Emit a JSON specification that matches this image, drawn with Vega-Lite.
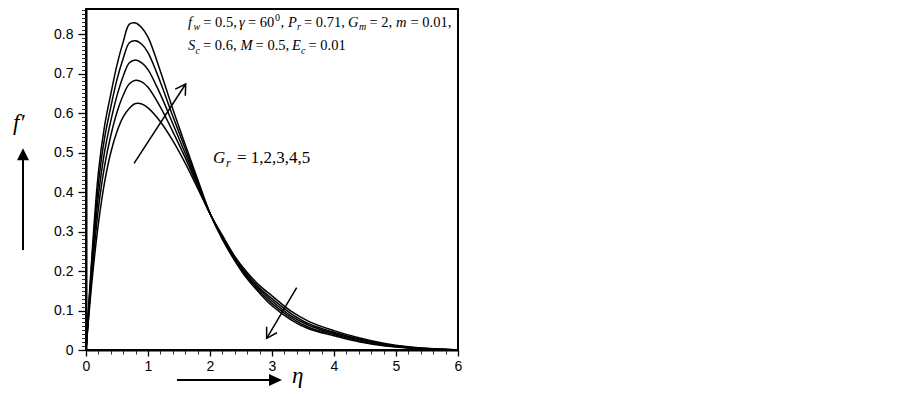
{
  "$schema": "https://vega.github.io/schema/vega-lite/v6.json",
  "width": 372,
  "height": 341,
  "autosize": {"type": "none"},
  "padding": {"left": 86, "top": 9, "right": 445, "bottom": 44},
  "background": "white",
  "config": {"view": {"stroke": "black", "strokeWidth": 2}},
  "resolve": {"axis": {"x": "independent", "y": "independent"}},
  "datasets": {
    "curves": [
      {"Gr":1,"x":0,"y":0},{"Gr":1,"x":0.1,"y":0.18},{"Gr":1,"x":0.2,"y":0.32},{"Gr":1,"x":0.3,"y":0.425},{"Gr":1,"x":0.4,"y":0.5},{"Gr":1,"x":0.5,"y":0.553},{"Gr":1,"x":0.6,"y":0.59},{"Gr":1,"x":0.7,"y":0.612},{"Gr":1,"x":0.8,"y":0.624},{"Gr":1,"x":0.9,"y":0.623},{"Gr":1,"x":1.0,"y":0.613},{"Gr":1,"x":1.2,"y":0.578},{"Gr":1,"x":1.4,"y":0.53},{"Gr":1,"x":1.6,"y":0.473},{"Gr":1,"x":1.8,"y":0.41},{"Gr":1,"x":2.0,"y":0.345},{"Gr":1,"x":2.2,"y":0.29},{"Gr":1,"x":2.4,"y":0.237},{"Gr":1,"x":2.6,"y":0.196},{"Gr":1,"x":2.8,"y":0.163},{"Gr":1,"x":3.0,"y":0.137},{"Gr":1,"x":3.3,"y":0.099},{"Gr":1,"x":3.6,"y":0.072},{"Gr":1,"x":4.0,"y":0.049},{"Gr":1,"x":4.4,"y":0.031},{"Gr":1,"x":4.8,"y":0.017},{"Gr":1,"x":5.2,"y":0.008},{"Gr":1,"x":5.6,"y":0.003},{"Gr":1,"x":6.0,"y":0},
      {"Gr":2,"x":0,"y":0},{"Gr":2,"x":0.1,"y":0.2},{"Gr":2,"x":0.2,"y":0.358},{"Gr":2,"x":0.3,"y":0.466},{"Gr":2,"x":0.4,"y":0.543},{"Gr":2,"x":0.5,"y":0.602},{"Gr":2,"x":0.6,"y":0.645},{"Gr":2,"x":0.7,"y":0.674},{"Gr":2,"x":0.8,"y":0.683},{"Gr":2,"x":0.9,"y":0.679},{"Gr":2,"x":1.0,"y":0.665},{"Gr":2,"x":1.2,"y":0.615},{"Gr":2,"x":1.4,"y":0.553},{"Gr":2,"x":1.6,"y":0.487},{"Gr":2,"x":1.8,"y":0.416},{"Gr":2,"x":2.0,"y":0.345},{"Gr":2,"x":2.2,"y":0.287},{"Gr":2,"x":2.4,"y":0.234},{"Gr":2,"x":2.6,"y":0.191},{"Gr":2,"x":2.8,"y":0.157},{"Gr":2,"x":3.0,"y":0.13},{"Gr":2,"x":3.3,"y":0.093},{"Gr":2,"x":3.6,"y":0.066},{"Gr":2,"x":4.0,"y":0.045},{"Gr":2,"x":4.4,"y":0.028},{"Gr":2,"x":4.8,"y":0.015},{"Gr":2,"x":5.2,"y":0.007},{"Gr":2,"x":5.6,"y":0.003},{"Gr":2,"x":6.0,"y":0},
      {"Gr":3,"x":0,"y":0},{"Gr":3,"x":0.1,"y":0.218},{"Gr":3,"x":0.2,"y":0.39},{"Gr":3,"x":0.3,"y":0.502},{"Gr":3,"x":0.4,"y":0.58},{"Gr":3,"x":0.5,"y":0.644},{"Gr":3,"x":0.6,"y":0.693},{"Gr":3,"x":0.7,"y":0.727},{"Gr":3,"x":0.8,"y":0.734},{"Gr":3,"x":0.9,"y":0.727},{"Gr":3,"x":1.0,"y":0.71},{"Gr":3,"x":1.2,"y":0.647},{"Gr":3,"x":1.4,"y":0.573},{"Gr":3,"x":1.6,"y":0.498},{"Gr":3,"x":1.8,"y":0.422},{"Gr":3,"x":2.0,"y":0.346},{"Gr":3,"x":2.2,"y":0.285},{"Gr":3,"x":2.4,"y":0.231},{"Gr":3,"x":2.6,"y":0.187},{"Gr":3,"x":2.8,"y":0.153},{"Gr":3,"x":3.0,"y":0.124},{"Gr":3,"x":3.3,"y":0.087},{"Gr":3,"x":3.6,"y":0.062},{"Gr":3,"x":4.0,"y":0.042},{"Gr":3,"x":4.4,"y":0.026},{"Gr":3,"x":4.8,"y":0.014},{"Gr":3,"x":5.2,"y":0.006},{"Gr":3,"x":5.6,"y":0.0025},{"Gr":3,"x":6.0,"y":0},
      {"Gr":4,"x":0,"y":0},{"Gr":4,"x":0.1,"y":0.235},{"Gr":4,"x":0.2,"y":0.421},{"Gr":4,"x":0.3,"y":0.537},{"Gr":4,"x":0.4,"y":0.615},{"Gr":4,"x":0.5,"y":0.685},{"Gr":4,"x":0.6,"y":0.738},{"Gr":4,"x":0.7,"y":0.778},{"Gr":4,"x":0.8,"y":0.783},{"Gr":4,"x":0.9,"y":0.774},{"Gr":4,"x":1.0,"y":0.753},{"Gr":4,"x":1.2,"y":0.678},{"Gr":4,"x":1.4,"y":0.592},{"Gr":4,"x":1.6,"y":0.51},{"Gr":4,"x":1.8,"y":0.427},{"Gr":4,"x":2.0,"y":0.346},{"Gr":4,"x":2.2,"y":0.282},{"Gr":4,"x":2.4,"y":0.228},{"Gr":4,"x":2.6,"y":0.184},{"Gr":4,"x":2.8,"y":0.148},{"Gr":4,"x":3.0,"y":0.118},{"Gr":4,"x":3.3,"y":0.082},{"Gr":4,"x":3.6,"y":0.057},{"Gr":4,"x":4.0,"y":0.039},{"Gr":4,"x":4.4,"y":0.023},{"Gr":4,"x":4.8,"y":0.012},{"Gr":4,"x":5.2,"y":0.006},{"Gr":4,"x":5.6,"y":0.002},{"Gr":4,"x":6.0,"y":0},
      {"Gr":5,"x":0,"y":0},{"Gr":5,"x":0.1,"y":0.25},{"Gr":5,"x":0.2,"y":0.45},{"Gr":5,"x":0.3,"y":0.568},{"Gr":5,"x":0.4,"y":0.648},{"Gr":5,"x":0.5,"y":0.722},{"Gr":5,"x":0.6,"y":0.78},{"Gr":5,"x":0.7,"y":0.825},{"Gr":5,"x":0.8,"y":0.828},{"Gr":5,"x":0.9,"y":0.816},{"Gr":5,"x":1.0,"y":0.792},{"Gr":5,"x":1.2,"y":0.706},{"Gr":5,"x":1.4,"y":0.61},{"Gr":5,"x":1.6,"y":0.52},{"Gr":5,"x":1.8,"y":0.432},{"Gr":5,"x":2.0,"y":0.346},{"Gr":5,"x":2.2,"y":0.28},{"Gr":5,"x":2.4,"y":0.226},{"Gr":5,"x":2.6,"y":0.18},{"Gr":5,"x":2.8,"y":0.144},{"Gr":5,"x":3.0,"y":0.112},{"Gr":5,"x":3.3,"y":0.077},{"Gr":5,"x":3.6,"y":0.053},{"Gr":5,"x":4.0,"y":0.036},{"Gr":5,"x":4.4,"y":0.021},{"Gr":5,"x":4.8,"y":0.011},{"Gr":5,"x":5.2,"y":0.005},{"Gr":5,"x":5.6,"y":0.002},{"Gr":5,"x":6.0,"y":0}
    ],
    "shafts": [
      {"x":0.775,"y":0.4727,"x2":1.608,"y2":0.6734},
      {"x":3.398,"y":0.158,"x2":2.914,"y2":0.0296}
    ],
    "axisShafts": [
      {"x":-1.016,"y":0.253,"x2":-1.016,"y2":0.49},
      {"x":1.468,"y":-0.076,"x2":2.98,"y2":-0.076}
    ],
    "headUp": [{"x":1.608,"y":0.6734}],
    "headDown": [{"x":2.914,"y":0.0296}],
    "headY": [{"x":-1.016,"y":0.511}],
    "headX": [{"x":3.161,"y":-0.076}],
    "annUpright": [
      {"x":1.8903,"y":0.8177,"t":"= 0.5,"},
      {"x":2.6129,"y":0.8177,"t":"= 60"},
      {"x":3.1371,"y":0.8177,"t":","},
      {"x":3.5161,"y":0.8177,"t":"= 0.71,"},
      {"x":4.5726,"y":0.8177,"t":"= 2,"},
      {"x":5.2339,"y":0.8177,"t":"= 0.01,"},
      {"x":1.8871,"y":0.7595,"t":"= 0.6,"},
      {"x":2.7355,"y":0.7595,"t":"= 0.5,"},
      {"x":3.5887,"y":0.7595,"t":"= 0.01"}
    ],
    "annItalic": [
      {"x":1.6452,"y":0.8177,"t":"f"},
      {"x":2.4677,"y":0.8177,"t":"γ"},
      {"x":3.2581,"y":0.8177,"t":"P"},
      {"x":4.2258,"y":0.8177,"t":"G"},
      {"x":5.0,"y":0.8177,"t":"m"},
      {"x":1.6452,"y":0.7595,"t":"S"},
      {"x":2.4919,"y":0.7595,"t":"M"},
      {"x":3.3226,"y":0.7595,"t":"E"}
    ],
    "annSub": [
      {"x":1.7339,"y":0.8089,"t":"w"},
      {"x":3.4032,"y":0.8089,"t":"r"},
      {"x":4.4032,"y":0.8089,"t":"m"},
      {"x":1.7661,"y":0.7506,"t":"c"},
      {"x":3.4677,"y":0.7506,"t":"c"}
    ],
    "annSup": [{"x":3.0484,"y":0.8329,"t":"0"}],
    "grItalic": [{"x":2.0484,"y":0.4734,"t":"G"}],
    "grSub": [{"x":2.2581,"y":0.4633,"t":"r"}],
    "grUpright": [{"x":2.4355,"y":0.4734,"t":"= 1,2,3,4,5"}],
    "axisTitles": [
      {"x":-1.177,"y":0.557,"t":"f′"},
      {"x":3.3226,"y":-0.0835,"t":"η"}
    ]
  },
  "encoding": {
    "x": {"field": "x", "type": "quantitative", "scale": {"domain": [0, 6], "nice": false, "zero": false}, "axis": null},
    "y": {"field": "y", "type": "quantitative", "scale": {"domain": [0, 0.8633], "nice": false, "zero": false}, "axis": null}
  },
  "layer": [
    {
      "data": {"name": "shafts"},
      "mark": {"type": "rule", "color": "black", "strokeWidth": 1.5},
      "encoding": {
        "x": {
          "field": "x", "type": "quantitative",
          "scale": {"domain": [0, 6], "nice": false, "zero": false},
          "axis": {
            "orient": "bottom", "title": null, "grid": false,
            "labelExpr": "''", "domainOpacity": 0, "labelOverlap": false,
            "values": [0.2,0.4,0.6,0.8,1.2,1.4,1.6,1.8,2.2,2.4,2.6,2.8,3.2,3.4,3.6,3.8,4.2,4.4,4.6,4.8,5.2,5.4,5.6,5.8],
            "tickColor": "#333333", "tickSize": 4, "tickWidth": 1
          }
        },
        "y": {
          "field": "y", "type": "quantitative",
          "scale": {"domain": [0, 0.8633], "nice": false, "zero": false},
          "axis": {
            "orient": "left", "title": null, "grid": false,
            "labelExpr": "''", "domainOpacity": 0, "labelOverlap": false,
            "values": [0.01,0.02,0.03,0.04,0.05,0.06,0.07,0.08,0.09,0.11,0.12,0.13,0.14,0.15,0.16,0.17,0.18,0.19,0.21,0.22,0.23,0.24,0.25,0.26,0.27,0.28,0.29,0.31,0.32,0.33,0.34,0.35,0.36,0.37,0.38,0.39,0.41,0.42,0.43,0.44,0.45,0.46,0.47,0.48,0.49,0.51,0.52,0.53,0.54,0.55,0.56,0.57,0.58,0.59,0.61,0.62,0.63,0.64,0.65,0.66,0.67,0.68,0.69,0.71,0.72,0.73,0.74,0.75,0.76,0.77,0.78,0.79,0.81,0.82,0.83,0.84,0.85,0.86],
            "tickColor": "#333333", "tickSize": 4.5, "tickWidth": 1
          }
        },
        "x2": {"field": "x2"},
        "y2": {"field": "y2"}
      }
    },
    {
      "data": {"name": "curves"},
      "mark": {"type": "line", "interpolate": "catmull-rom", "color": "black", "strokeWidth": 1.5},
      "encoding": {
        "x": {
          "field": "x", "type": "quantitative",
          "scale": {"domain": [0, 6], "nice": false, "zero": false},
          "axis": {
            "orient": "bottom", "title": null, "grid": false,
            "values": [0,1,2,3,4,5,6],
            "domainColor": "black", "domainWidth": 2,
            "tickColor": "black", "tickSize": 6, "tickWidth": 1.3,
            "labelFlush": false, "labelOverlap": false,
            "labelFont": "Liberation Sans", "labelFontSize": 14, "labelColor": "black", "labelPadding": 3
          }
        },
        "y": {
          "field": "y", "type": "quantitative",
          "scale": {"domain": [0, 0.8633], "nice": false, "zero": false},
          "axis": {
            "orient": "left", "title": null, "grid": false,
            "values": [0,0.1,0.2,0.3,0.4,0.5,0.6,0.7,0.8],
            "labelExpr": "format(datum.value, '.1~f')",
            "domainColor": "black", "domainWidth": 2,
            "tickColor": "black", "tickSize": 8, "tickWidth": 1.3,
            "labelFlush": false, "labelOverlap": false,
            "labelFont": "Liberation Sans", "labelFontSize": 14, "labelColor": "black", "labelPadding": 5
          }
        },
        "detail": {"field": "Gr", "type": "nominal"}
      }
    },
    {
      "data": {"name": "axisShafts"},
      "mark": {"type": "rule", "color": "black", "strokeWidth": 2},
      "encoding": {"x2": {"field": "x2"}, "y2": {"field": "y2"}}
    },
    {
      "data": {"name": "headUp"},
      "mark": {"type": "point", "shape": "M -1 -0.6 L 0 0 L -1 0.6", "filled": false, "stroke": "black", "strokeWidth": 1.5, "size": 400, "angle": 302.8, "opacity": 1}
    },
    {
      "data": {"name": "headDown"},
      "mark": {"type": "point", "shape": "M -1 -0.6 L 0 0 L -1 0.6", "filled": false, "stroke": "black", "strokeWidth": 1.5, "size": 400, "angle": 120.7, "opacity": 1}
    },
    {
      "data": {"name": "headY"},
      "mark": {"type": "point", "shape": "M 0 0 L 0.5 1 L -0.5 1 Z", "filled": true, "fill": "black", "size": 576, "opacity": 1}
    },
    {
      "data": {"name": "headX"},
      "mark": {"type": "point", "shape": "M 0 0 L -1 0.46 L -1 -0.46 Z", "filled": true, "fill": "black", "size": 676, "opacity": 1}
    },
    {
      "data": {"name": "annUpright"},
      "mark": {"type": "text", "font": "Liberation Serif", "fontSize": 14.5, "align": "left", "baseline": "alphabetic", "color": "black"},
      "encoding": {"text": {"field": "t"}}
    },
    {
      "data": {"name": "annItalic"},
      "mark": {"type": "text", "font": "Liberation Serif", "fontStyle": "italic", "fontSize": 14.5, "align": "left", "baseline": "alphabetic", "color": "black"},
      "encoding": {"text": {"field": "t"}}
    },
    {
      "data": {"name": "annSub"},
      "mark": {"type": "text", "font": "Liberation Serif", "fontStyle": "italic", "fontSize": 10, "align": "left", "baseline": "alphabetic", "color": "black"},
      "encoding": {"text": {"field": "t"}}
    },
    {
      "data": {"name": "annSup"},
      "mark": {"type": "text", "font": "Liberation Serif", "fontSize": 10, "align": "left", "baseline": "alphabetic", "color": "black"},
      "encoding": {"text": {"field": "t"}}
    },
    {
      "data": {"name": "grItalic"},
      "mark": {"type": "text", "font": "Liberation Serif", "fontStyle": "italic", "fontSize": 17, "align": "left", "baseline": "alphabetic", "color": "black"},
      "encoding": {"text": {"field": "t"}}
    },
    {
      "data": {"name": "grSub"},
      "mark": {"type": "text", "font": "Liberation Serif", "fontStyle": "italic", "fontSize": 12, "align": "left", "baseline": "alphabetic", "color": "black"},
      "encoding": {"text": {"field": "t"}}
    },
    {
      "data": {"name": "grUpright"},
      "mark": {"type": "text", "font": "Liberation Serif", "fontSize": 17, "align": "left", "baseline": "alphabetic", "color": "black"},
      "encoding": {"text": {"field": "t"}}
    },
    {
      "data": {"name": "axisTitles"},
      "mark": {"type": "text", "font": "Liberation Serif", "fontStyle": "italic", "fontSize": 23, "align": "left", "baseline": "alphabetic", "color": "black"},
      "encoding": {"text": {"field": "t"}}
    }
  ]
}
